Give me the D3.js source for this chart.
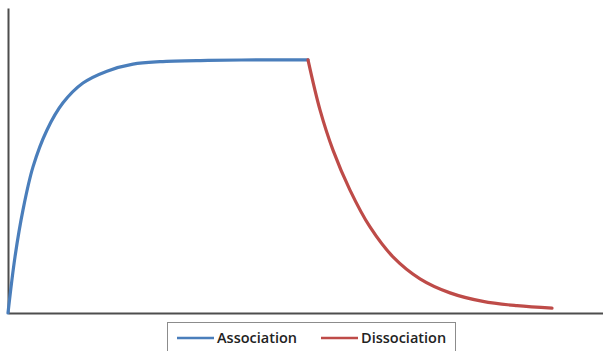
<html>
<head>
    <style>
        body { margin: 0; background: #fff; }
        .line { fill: none; stroke-width: 3.2; stroke-linecap: round; stroke-linejoin: round; }
        .axis path { stroke: #4d4d4d; stroke-width: 2; }
        .legend text { font-family: "Open Sans", sans-serif; font-size: 14.5px; font-weight: 600; fill: #222; }
    </style>
</head>
<body>
    <svg id="container" width="603" height="351"></svg>
    <script src="https://cdn.jsdelivr.net/npm/d3@7"></script>
    <script>
        // association phase: time, response
        const assocTime = [0, 7, 15, 25, 39, 55, 75, 99, 125, 152, 200, 250, 300]
        const assocResp = [0, 18.4, 33.8, 47.9, 60.0, 68.9, 75.4, 79.3, 81.6, 82.4, 82.8, 83, 83]
        // dissociation phase
        const dissocTime = [300, 312, 325, 342, 362, 385, 412, 442, 475, 509, 544]
        const dissocResp = [83, 66.6, 53.4, 40.3, 28.2, 18.4, 11.2, 6.6, 3.8, 2.4, 1.6]
        const seriesNames = ["Association", "Dissociation"]
        const colors = ["#4a7ebb", "#be4b48"]

        const svg = d3.select("#container")
        const plotLeft = 8, plotRight = 603, plotTop = 8, plotBottom = 313

        let x = d3.scaleLinear().domain([0, 595]).range([plotLeft, plotRight])
        let y = d3.scaleLinear().domain([0, 100]).range([plotBottom, plotTop])

        svg.append("g").attr("class", "axis")
            .attr("transform", "translate(0," + plotBottom + ")")
            .call(d3.axisBottom(x).ticks(0).tickSizeOuter(0))
        svg.append("g").attr("class", "axis")
            .attr("transform", "translate(" + plotLeft + ",0)")
            .call(d3.axisLeft(y).ticks(0).tickSizeOuter(0))

        let line = d3.line()
            .x(d => x(d[0]))
            .y(d => y(d[1]))
            .curve(d3.curveCatmullRom.alpha(0.5))

        let series = [
            d3.zip(assocTime, assocResp),
            d3.zip(dissocTime, dissocResp)
        ]
        series.forEach((s, i) => {
            svg.append("path")
                .datum(s)
                .attr("class", "line")
                .attr("stroke", colors[i])
                .attr("d", line)
        })

        // legend box
        let legend = svg.append("g").attr("class", "legend")
        legend.append("rect")
            .attr("x", 167.5).attr("y", 322.5)
            .attr("width", 288).attr("height", 40)
            .attr("fill", "#fff").attr("stroke", "#8c8c8c").attr("stroke-width", 1)
        let itemX = [177, 321]
        seriesNames.forEach((name, i) => {
            legend.append("line")
                .attr("x1", itemX[i]).attr("x2", itemX[i] + 37)
                .attr("y1", 338).attr("y2", 338)
                .attr("stroke", colors[i]).attr("stroke-width", 2.5)
            legend.append("text")
                .attr("x", itemX[i] + 40).attr("y", 343)
                .text(name)
        })
    </script>
</body>
</html>
